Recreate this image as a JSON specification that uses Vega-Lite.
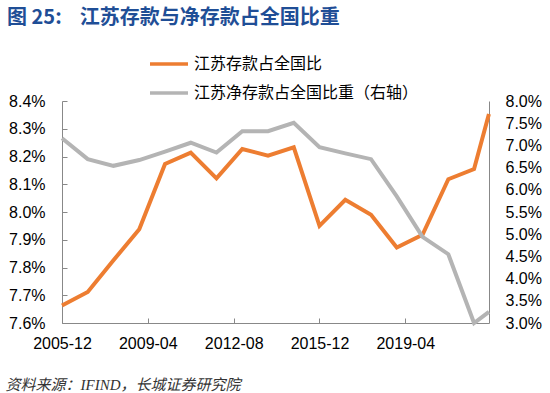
{
  "$schema": "https://vega.github.io/schema/vega-lite/v6.json",
  "width": 427,
  "height": 222,
  "autosize": {"type": "none"},
  "padding": {"left": 62, "top": 101, "right": 61, "bottom": 70},
  "background": "white",
  "title": {
    "text": "图 25: \u00a0\u00a0\u00a0江苏存款与净存款占全国比重",
    "anchor": "start",
    "frame": "group",
    "dx": -55,
    "dy": 5,
    "font": "Noto Sans CJK SC",
    "fontSize": 20,
    "fontWeight": "bold",
    "color": "#1F4E96",
    "baseline": "middle",
    "offset": 10
  },
  "config": {
    "view": {"stroke": null},
    "axis": {
      "labelFont": "Liberation Sans",
      "labelFontSize": 16,
      "labelColor": "#000000",
      "domainColor": "#888888",
      "tickColor": "#888888",
      "grid": false
    }
  },
  "data": {
    "values": [
      {"date": "2005/12/01", "series": "江苏存款占全国比", "value": 0.07663},
      {"date": "2006/12/01", "series": "江苏存款占全国比", "value": 0.07712},
      {"date": "2007/12/01", "series": "江苏存款占全国比", "value": 0.07826},
      {"date": "2008/12/01", "series": "江苏存款占全国比", "value": 0.07938},
      {"date": "2009/12/01", "series": "江苏存款占全国比", "value": 0.08173},
      {"date": "2010/12/01", "series": "江苏存款占全国比", "value": 0.08214},
      {"date": "2011/12/01", "series": "江苏存款占全国比", "value": 0.08121},
      {"date": "2012/12/01", "series": "江苏存款占全国比", "value": 0.08227},
      {"date": "2013/12/01", "series": "江苏存款占全国比", "value": 0.08203},
      {"date": "2014/12/01", "series": "江苏存款占全国比", "value": 0.08233},
      {"date": "2015/12/01", "series": "江苏存款占全国比", "value": 0.0795},
      {"date": "2016/12/01", "series": "江苏存款占全国比", "value": 0.08044},
      {"date": "2017/12/01", "series": "江苏存款占全国比", "value": 0.0799},
      {"date": "2018/12/01", "series": "江苏存款占全国比", "value": 0.07872},
      {"date": "2019/12/01", "series": "江苏存款占全国比", "value": 0.07918},
      {"date": "2020/12/01", "series": "江苏存款占全国比", "value": 0.08118},
      {"date": "2021/12/01", "series": "江苏存款占全国比", "value": 0.08155},
      {"date": "2022/06/30", "series": "江苏存款占全国比", "value": 0.08353},
      {"date": "2005/12/01", "series": "江苏净存款占全国比重（右轴）", "value": 0.0716},
      {"date": "2006/12/01", "series": "江苏净存款占全国比重（右轴）", "value": 0.0669},
      {"date": "2007/12/01", "series": "江苏净存款占全国比重（右轴）", "value": 0.0654},
      {"date": "2008/12/01", "series": "江苏净存款占全国比重（右轴）", "value": 0.0667},
      {"date": "2009/12/01", "series": "江苏净存款占全国比重（右轴）", "value": 0.0686},
      {"date": "2010/12/01", "series": "江苏净存款占全国比重（右轴）", "value": 0.0706},
      {"date": "2011/12/01", "series": "江苏净存款占全国比重（右轴）", "value": 0.0684},
      {"date": "2012/12/01", "series": "江苏净存款占全国比重（右轴）", "value": 0.0732},
      {"date": "2013/12/01", "series": "江苏净存款占全国比重（右轴）", "value": 0.0732},
      {"date": "2014/12/01", "series": "江苏净存款占全国比重（右轴）", "value": 0.0751},
      {"date": "2015/12/01", "series": "江苏净存款占全国比重（右轴）", "value": 0.0696},
      {"date": "2016/12/01", "series": "江苏净存款占全国比重（右轴）", "value": 0.0682},
      {"date": "2017/12/01", "series": "江苏净存款占全国比重（右轴）", "value": 0.0669},
      {"date": "2018/12/01", "series": "江苏净存款占全国比重（右轴）", "value": 0.0585},
      {"date": "2019/12/01", "series": "江苏净存款占全国比重（右轴）", "value": 0.0494},
      {"date": "2020/12/01", "series": "江苏净存款占全国比重（右轴）", "value": 0.0455},
      {"date": "2021/12/01", "series": "江苏净存款占全国比重（右轴）", "value": 0.0300},
      {"date": "2022/06/30", "series": "江苏净存款占全国比重（右轴）", "value": 0.0325}
    ]
  },
  "encoding": {
    "x": {
      "field": "date",
      "type": "temporal",
      "scale": {"domain": [{"year": 2005, "month": 12, "date": 1}, {"year": 2022, "month": 7, "date": 1}]},
      "axis": {
        "values": [
          {"year": 2005, "month": 12, "date": 1},
          {"year": 2009, "month": 4, "date": 1},
          {"year": 2012, "month": 8, "date": 1},
          {"year": 2015, "month": 12, "date": 1},
          {"year": 2019, "month": 4, "date": 1}
        ],
        "format": "%Y-%m",
        "tickSize": -5,
        "labelPadding": 17,
        "labelFlush": false,
        "labelOverlap": false,
        "title": "资料来源：IFIND，长城证券研究院",
        "titleFont": "Liberation Serif, Noto Sans CJK SC",
        "titleFontStyle": "italic",
        "titleFontWeight": "normal",
        "titleFontSize": 15,
        "titleColor": "#333333",
        "titleAnchor": "start",
        "titleAlign": "left",
        "titleBaseline": "middle",
        "titleX": -57,
        "titleY": 61
      }
    },
    "color": {
      "field": "series",
      "type": "nominal",
      "scale": {
        "domain": ["江苏存款占全国比", "江苏净存款占全国比重（右轴）"],
        "range": ["#ED7D31", "#B4B4B4"]
      },
      "legend": {
        "orient": "none",
        "legendX": 86,
        "legendY": -58,
        "title": null,
        "symbolType": "stroke",
        "symbolSize": 1444,
        "symbolStrokeWidth": 3.5,
        "labelFont": "Noto Sans CJK SC",
        "labelFontSize": 16,
        "labelColor": "#000000",
        "labelLimit": 0,
        "labelOffset": 4,
        "rowPadding": -6
      }
    }
  },
  "layer": [
    {
      "transform": [{"filter": "datum.series === '江苏存款占全国比'"}],
      "mark": {"type": "line", "strokeWidth": 4},
      "encoding": {
        "y": {
          "field": "value",
          "type": "quantitative",
          "scale": {"domain": [0.076, 0.084], "zero": false},
          "axis": {
            "orient": "left",
            "values": [0.076, 0.077, 0.078, 0.079, 0.08, 0.081, 0.082, 0.083, 0.084],
            "format": ".1%",
            "tickSize": -5,
            "labelPadding": 22,
            "title": null
          }
        }
      }
    },
    {
      "transform": [{"filter": "datum.series !== '江苏存款占全国比'"}],
      "mark": {"type": "line", "strokeWidth": 4, "clip": false},
      "encoding": {
        "y": {
          "field": "value",
          "type": "quantitative",
          "scale": {"domain": [0.03, 0.08], "zero": false},
          "axis": {
            "orient": "right",
            "values": [0.03, 0.035, 0.04, 0.045, 0.05, 0.055, 0.06, 0.065, 0.07, 0.075, 0.08],
            "format": ".1%",
            "ticks": false,
            "labelPadding": 16,
            "title": null
          }
        }
      }
    }
  ],
  "resolve": {"scale": {"y": "independent"}}
}
